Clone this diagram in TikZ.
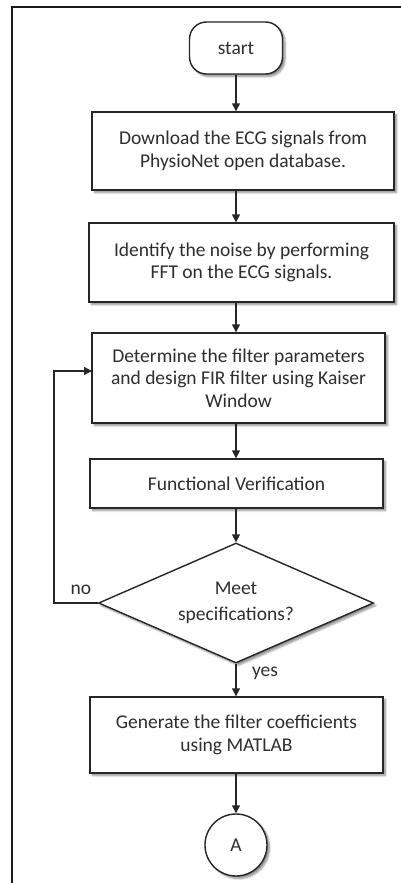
\documentclass[tikz,border=0pt]{standalone}
\usepackage{fontspec}
\setmainfont{Carlito}
\usetikzlibrary{arrows.meta,shapes.geometric,shadows.blur}
\tikzset{
  every node/.style={font=\fontsize{19.5}{22.5}\selectfont, text=black!82},
  shade/.style={blur shadow={shadow xshift=2.5pt, shadow yshift=-2.5pt, shadow blur steps=6, shadow opacity=45}},
  procbox/.style={draw=black!85, line width=1.4pt, fill=white, shade, align=center, inner sep=0pt},
  termbox/.style={procbox, rounded corners=17pt},
  decision/.style={draw=black!85, line width=1.4pt, fill=white, shade, diamond, aspect=2.29, inner sep=0pt, align=center},
  connector/.style={draw=black!85, line width=1.4pt, fill=white, shade, circle, inner sep=0pt},
  flow/.style={draw=black!85, line width=1.4pt, -{Triangle[length=8pt,width=8pt]}},
  lbl/.style={inner sep=0pt}
}
\begin{document}
\begin{tikzpicture}[x=1pt,y=-1pt]
  \useasboundingbox (0,0) rectangle (401,883);
  % outer frame: top and left sides
  \draw[line width=2.4pt, black!90] (401,7) -- (12,7) -- (12,883);

  \node[termbox, minimum width=93pt, minimum height=52pt] (start) at (236,48) {start};
  \node[procbox, minimum width=302pt, minimum height=78pt] (s1) at (243,151)
    {Download the ECG signals from\\PhysioNet open database.};
  \node[procbox, minimum width=305pt, minimum height=79pt] (s2) at (241.5,262.5)
    {Identify the noise by performing\\FFT on the ECG signals.};
  \node[procbox, minimum width=293pt, minimum height=90pt] (s3) at (238.5,378)
    {Determine the filter parameters\\and design FIR filter using Kaiser\\Window};
  \node[procbox, minimum width=293pt, minimum height=49pt] (s4) at (236.5,483.5)
    {Functional Verification};
  \node[decision, minimum width=275pt, minimum height=120pt] (dec) at (236,603)
    {Meet\\[4pt]specifications?};
  \node[procbox, minimum width=293pt, minimum height=76pt] (s5) at (236.5,735)
    {Generate the filter coefficients\\using MATLAB};
  \node[connector, minimum size=62pt] (A) at (236,845) {A};

  % main flow
  \draw[flow] (start.south) -- (start.south |- s1.north);
  \draw[flow] (start.south |- s1.south) -- (start.south |- s2.north);
  \draw[flow] (start.south |- s2.south) -- (start.south |- s3.north);
  \draw[flow] (start.south |- s3.south) -- (start.south |- s4.north);
  \draw[flow] (start.south |- s4.south) -- (dec.north);
  \draw[flow] (dec.south) -- (dec.south |- s5.north);
  \draw[flow] (dec.south |- s5.south) -- (A.north);

  % retry loop
  \coordinate (loopin) at (92,371);
  \draw[flow] (dec.west) -- (54,603) -- (54,371) -- (loopin);

  \node[lbl] (no) at (81,590) {no};
  \node[lbl] (yes) at (265,673) {yes};
\end{tikzpicture}
\end{document}
